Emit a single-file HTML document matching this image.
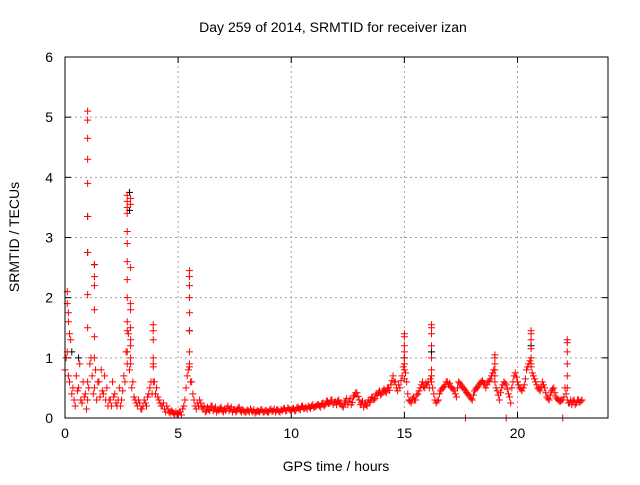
<!DOCTYPE html>
<html><head><meta charset="utf-8"><style>
body{margin:0;background:#fff}
svg text{font-family:"Liberation Sans",sans-serif;font-size:14px;fill:#000}
</style></head><body>
<svg id="chart" width="640" height="480" viewBox="0 0 640 480">
<rect width="640" height="480" fill="#fff"/>
<g id="grid"></g>
<g id="ticks"></g>
<g id="black"></g>
<g id="red"></g>
<rect x="65" y="57" width="543" height="361" fill="none" stroke="#000" stroke-width="1"/>
<text x="333" y="32" text-anchor="middle">Day 259 of 2014, SRMTID for receiver izan</text>
<text x="336" y="471" text-anchor="middle">GPS time / hours</text>
<text x="0" y="0" transform="translate(19,237) rotate(-90)" text-anchor="middle">SRMTID / TECUs</text>
</svg>
<script>
const xTicks=[0,5,10,15,20];
const yTicks=[0,1,2,3,4,5,6];
const baseTimes=[0.0,0.1,0.2,0.3,0.4,0.5,0.6,0.7,0.8,0.9,1.0,1.1,1.2,1.3,1.4,1.5,1.6,1.7,1.8,1.9,2.0,2.1,2.2,2.3,2.4,2.5,2.6,2.7,2.8,2.9,3.0,3.1,3.2,3.3,3.4,3.5,3.6,3.7,3.8,3.9,4.0,4.1,4.2,4.3,4.4,4.5,4.6,4.7,4.8,4.9,5.0,5.1,5.2,5.3,5.4,5.5,5.6,5.7,5.8,5.9,6.0,6.1,6.2,6.3,6.4,6.5,6.6,6.7,6.8,6.9,7.0,7.1,7.2,7.3,7.4,7.5,7.6,7.7,7.8,7.9,8.0,8.1,8.2,8.3,8.4,8.5,8.6,8.7,8.8,8.9,9.0,9.1,9.2,9.3,9.4,9.5,9.6,9.7,9.8,9.9,10.0,10.1,10.2,10.3,10.4,10.5,10.6,10.7,10.8,10.9,11.0,11.1,11.2,11.3,11.4,11.5,11.6,11.7,11.8,11.9,12.0,12.1,12.2,12.3,12.4,12.5,12.6,12.7,12.8,12.9,13.0,13.1,13.2,13.3,13.4,13.5,13.6,13.7,13.8,13.9,14.0,14.1,14.2,14.3,14.4,14.5,14.6,14.7,14.8,14.9,15.0,15.1,15.2,15.3,15.4,15.5,15.6,15.7,15.8,15.9,16.0,16.1,16.2,16.3,16.4,16.5,16.6,16.7,16.8,16.9,17.0,17.1,17.2,17.3,17.4,17.5,17.6,17.7,17.8,17.9,18.0,18.1,18.2,18.3,18.4,18.5,18.6,18.7,18.8,18.9,19.0,19.1,19.2,19.3,19.4,19.5,19.6,19.7,19.8,19.9,20.0,20.1,20.2,20.3,20.4,20.5,20.6,20.7,20.8,20.9,21.0,21.1,21.2,21.3,21.4,21.5,21.6,21.7,21.8,21.9,22.0,22.1,22.2,22.3,22.4,22.5,22.6,22.7,22.8];
const baseValues=[0.8,1.1,0.6,0.4,0.3,0.7,0.5,0.3,0.6,0.4,
0.3,0.9,0.7,0.5,0.3,0.6,0.8,0.4,0.3,0.2,
0.3,0.6,0.4,0.2,0.5,0.3,0.7,1.1,1.4,1.2,
0.6,0.3,0.2,0.25,0.15,0.3,0.2,0.4,0.6,0.9,
0.4,0.35,0.25,0.2,0.15,0.2,0.1,0.12,0.08,0.1,
0.08,0.1,0.15,0.3,0.7,0.9,0.6,0.3,0.15,0.2,
0.25,0.15,0.1,0.18,0.12,0.2,0.15,0.1,0.12,0.18,
0.1,0.12,0.2,0.15,0.1,0.14,0.12,0.18,0.1,0.12,
0.1,0.12,0.15,0.1,0.08,0.12,0.1,0.14,0.1,0.12,
0.1,0.15,0.12,0.1,0.14,0.1,0.12,0.16,0.12,0.15,
0.13,0.16,0.12,0.18,0.14,0.2,0.16,0.15,0.18,0.2,
0.17,0.2,0.22,0.18,0.25,0.22,0.28,0.25,0.3,0.26,
0.22,0.3,0.25,0.18,0.28,0.22,0.32,0.26,0.38,0.42,
0.3,0.25,0.18,0.22,0.3,0.28,0.35,0.32,0.38,0.45,
0.4,0.48,0.42,0.5,0.55,0.7,0.6,0.45,0.5,0.7,
1.0,0.6,0.3,0.25,0.35,0.3,0.4,0.5,0.6,0.5,
0.55,0.5,0.7,0.4,0.25,0.3,0.45,0.5,0.55,0.6,
0.58,0.5,0.45,0.35,0.6,0.55,0.5,0.45,0.4,0.35,
0.3,0.45,0.5,0.55,0.6,0.58,0.5,0.6,0.65,0.75,
0.6,0.45,0.3,0.5,0.6,0.55,0.4,0.25,0.6,0.75,
0.6,0.5,0.45,0.55,0.8,0.9,0.85,0.7,0.6,0.5,
0.45,0.6,0.5,0.35,0.3,0.45,0.5,0.35,0.3,0.28,
0.3,0.5,0.3,0.25,0.22,0.3,0.25,0.3,0.28];
const midValues=[1.0,0.7,1.3,0.5,0.2,0.45,0.9,0.25,0.35,0.15,
0.5,1.0,0.4,0.8,0.6,0.35,0.45,0.7,0.5,0.3,
0.2,0.35,0.25,0.3,0.2,0.45,0.6,0.9,0.8,0.5,
0.35,0.25,0.3,0.15,0.2,0.25,0.35,0.5,0.4,0.6,
0.5,0.3,0.2,0.25,0.1,0.15,0.08,0.1,0.06,0.07,
0.1,0.05,0.2,0.5,0.8,0.6,0.4,0.2,0.25,0.3,
0.18,0.2,0.12,0.14,0.2,0.12,0.18,0.14,0.16,0.12,
0.15,0.16,0.12,0.18,0.14,0.1,0.16,0.12,0.14,0.1,
0.13,0.1,0.12,0.14,0.1,0.11,0.13,0.1,0.12,0.1,
0.13,0.11,0.15,0.13,0.11,0.14,0.15,0.12,0.17,0.13,
0.15,0.12,0.17,0.15,0.19,0.16,0.18,0.2,0.16,0.22,
0.19,0.22,0.2,0.24,0.2,0.28,0.24,0.3,0.22,0.27,
0.28,0.24,0.2,0.25,0.32,0.28,0.22,0.35,0.42,0.36,
0.22,0.28,0.25,0.2,0.26,0.34,0.3,0.4,0.42,0.38,
0.45,0.44,0.5,0.46,0.62,0.6,0.5,0.55,0.62,0.85,
0.75,0.4,0.28,0.32,0.3,0.38,0.45,0.55,0.52,0.58,
0.6,0.65,0.5,0.3,0.28,0.4,0.48,0.52,0.6,0.55,
0.52,0.48,0.4,0.5,0.58,0.52,0.48,0.42,0.38,0.32,
0.38,0.48,0.52,0.58,0.62,0.55,0.55,0.62,0.7,0.8,
0.5,0.38,0.42,0.55,0.58,0.48,0.35,0.5,0.7,0.68,
0.55,0.48,0.5,0.65,0.85,0.95,0.75,0.65,0.55,0.48,
0.52,0.55,0.42,0.32,0.38,0.48,0.42,0.32,0.28,0.3,
0.35,0.4,0.25,0.3,0.28,0.22,0.3,0.26,0.3];
const spikeTimes=[1.0,1.0,1.0,1.0,1.0,1.0,1.0,1.0,1.0,1.0,
1.3,1.3,1.3,1.3,1.3,1.3,
0.1,0.1,0.15,0.15,0.2,
2.75,2.75,2.75,2.75,2.75,2.75,2.75,2.75,2.75,2.75,2.75,2.75,
2.9,2.9,2.9,2.9,2.9,2.9,2.9,2.9,2.9,
3.9,3.9,3.9,3.9,3.9,3.9,
5.5,5.5,5.5,5.5,5.5,5.5,5.5,5.5,
15.0,15.0,15.0,15.0,15.0,15.0,15.0,
16.2,16.2,16.2,16.2,16.2,16.2,16.2,
19.0,19.0,19.0,19.0,19.0,
20.6,20.6,20.6,20.6,20.6,20.6,
22.2,22.2,22.2,22.2,22.2,22.2,
17.7,19.5,22.0];
const spikeValues=[5.1,4.95,4.65,4.3,3.9,3.35,2.75,2.05,1.5,0.6,
2.55,2.35,2.2,1.8,1.35,1.0,
2.1,1.9,1.75,1.6,1.4,
3.7,3.6,3.5,3.4,3.1,2.9,2.6,2.3,2.0,1.6,1.45,1.1,
3.65,3.55,2.5,1.9,1.8,1.5,1.3,1.0,0.9,
1.55,1.45,1.3,1.0,0.85,0.6,
2.45,2.35,2.2,2.0,1.75,1.45,1.1,0.85,
1.4,1.35,1.2,1.1,0.9,0.8,0.65,
1.55,1.5,1.4,1.2,1.0,0.8,0.6,
1.05,1.0,0.9,0.8,0.7,
1.45,1.4,1.3,1.15,1.0,0.9,
1.3,1.25,1.1,0.9,0.7,0.5,
0.0,0.0,0.0];
const blackTimes=[1.0,1.0,1.3,2.85,2.85,5.5,0.6,0.3,20.6,15.0,16.2];
const blackValues=[3.35,2.75,2.55,3.75,3.45,1.45,1.0,1.1,1.2,1.0,1.1];

const X0=65,X1=608,Y0=418,Y1=57,XMAX=24,YMAX=6;
const sx=v=>X0+(X1-X0)*v/XMAX;
const sy=v=>Y0-(Y0-Y1)*v/YMAX;
const NS='http://www.w3.org/2000/svg';
function mk(tag,attrs,parent){const e=document.createElementNS(NS,tag);for(const k in attrs)e.setAttribute(k,attrs[k]);parent.appendChild(e);return e;}
const grid=document.getElementById('grid'),ticks=document.getElementById('ticks');
xTicks.forEach(t=>{
  const x=sx(t);
  if(t>0){const g=mk('line',{x1:x,y1:Y0,x2:x,y2:Y1,stroke:'#a0a0a0','stroke-dasharray':'2,3'},grid);
  
  }
  mk('line',{x1:x,y1:Y0,x2:x,y2:Y0-6,stroke:'#000'},ticks);
  mk('line',{x1:x,y1:Y1,x2:x,y2:Y1+6,stroke:'#000'},ticks);
  const l=mk('text',{x:x,y:Y0+20,'text-anchor':'middle'},ticks);l.textContent=t;
  
  
});
yTicks.forEach(t=>{
  const y=sy(t);
  if(t>0&&t<YMAX){const g=mk('line',{x1:X0,y1:y,x2:X1,y2:y,stroke:'#a0a0a0','stroke-dasharray':'2,3'},grid);
  
  }
  mk('line',{x1:X0,y1:y,x2:X0+6,y2:y,stroke:'#000'},ticks);
  mk('line',{x1:X1,y1:y,x2:X1-6,y2:y,stroke:'#000'},ticks);
  const l=mk('text',{x:X0-12,y:y+5,'text-anchor':'end'},ticks);l.textContent=t;
  
  
});
function plus(g,t,v,color){
  const x=sx(t),y=sy(v);
  const p=mk('path',{d:`M${x-3.5},${y}h7M${x},${y-3.5}v7`,stroke:color,'stroke-width':1,fill:'none'},g);
  
  
}
const bg=document.getElementById('black'),rg=document.getElementById('red');
blackTimes.forEach((t,i)=>plus(bg,t,blackValues[i],'#000'));
baseTimes.forEach((t,i)=>plus(rg,t,baseValues[i],'#f00'));
baseTimes.forEach((t,i)=>{if(i<midValues.length)plus(rg,t+0.05,midValues[i],'#f00');});
spikeTimes.forEach((t,i)=>plus(rg,t,spikeValues[i],'#f00'));
</script>
</body></html>
